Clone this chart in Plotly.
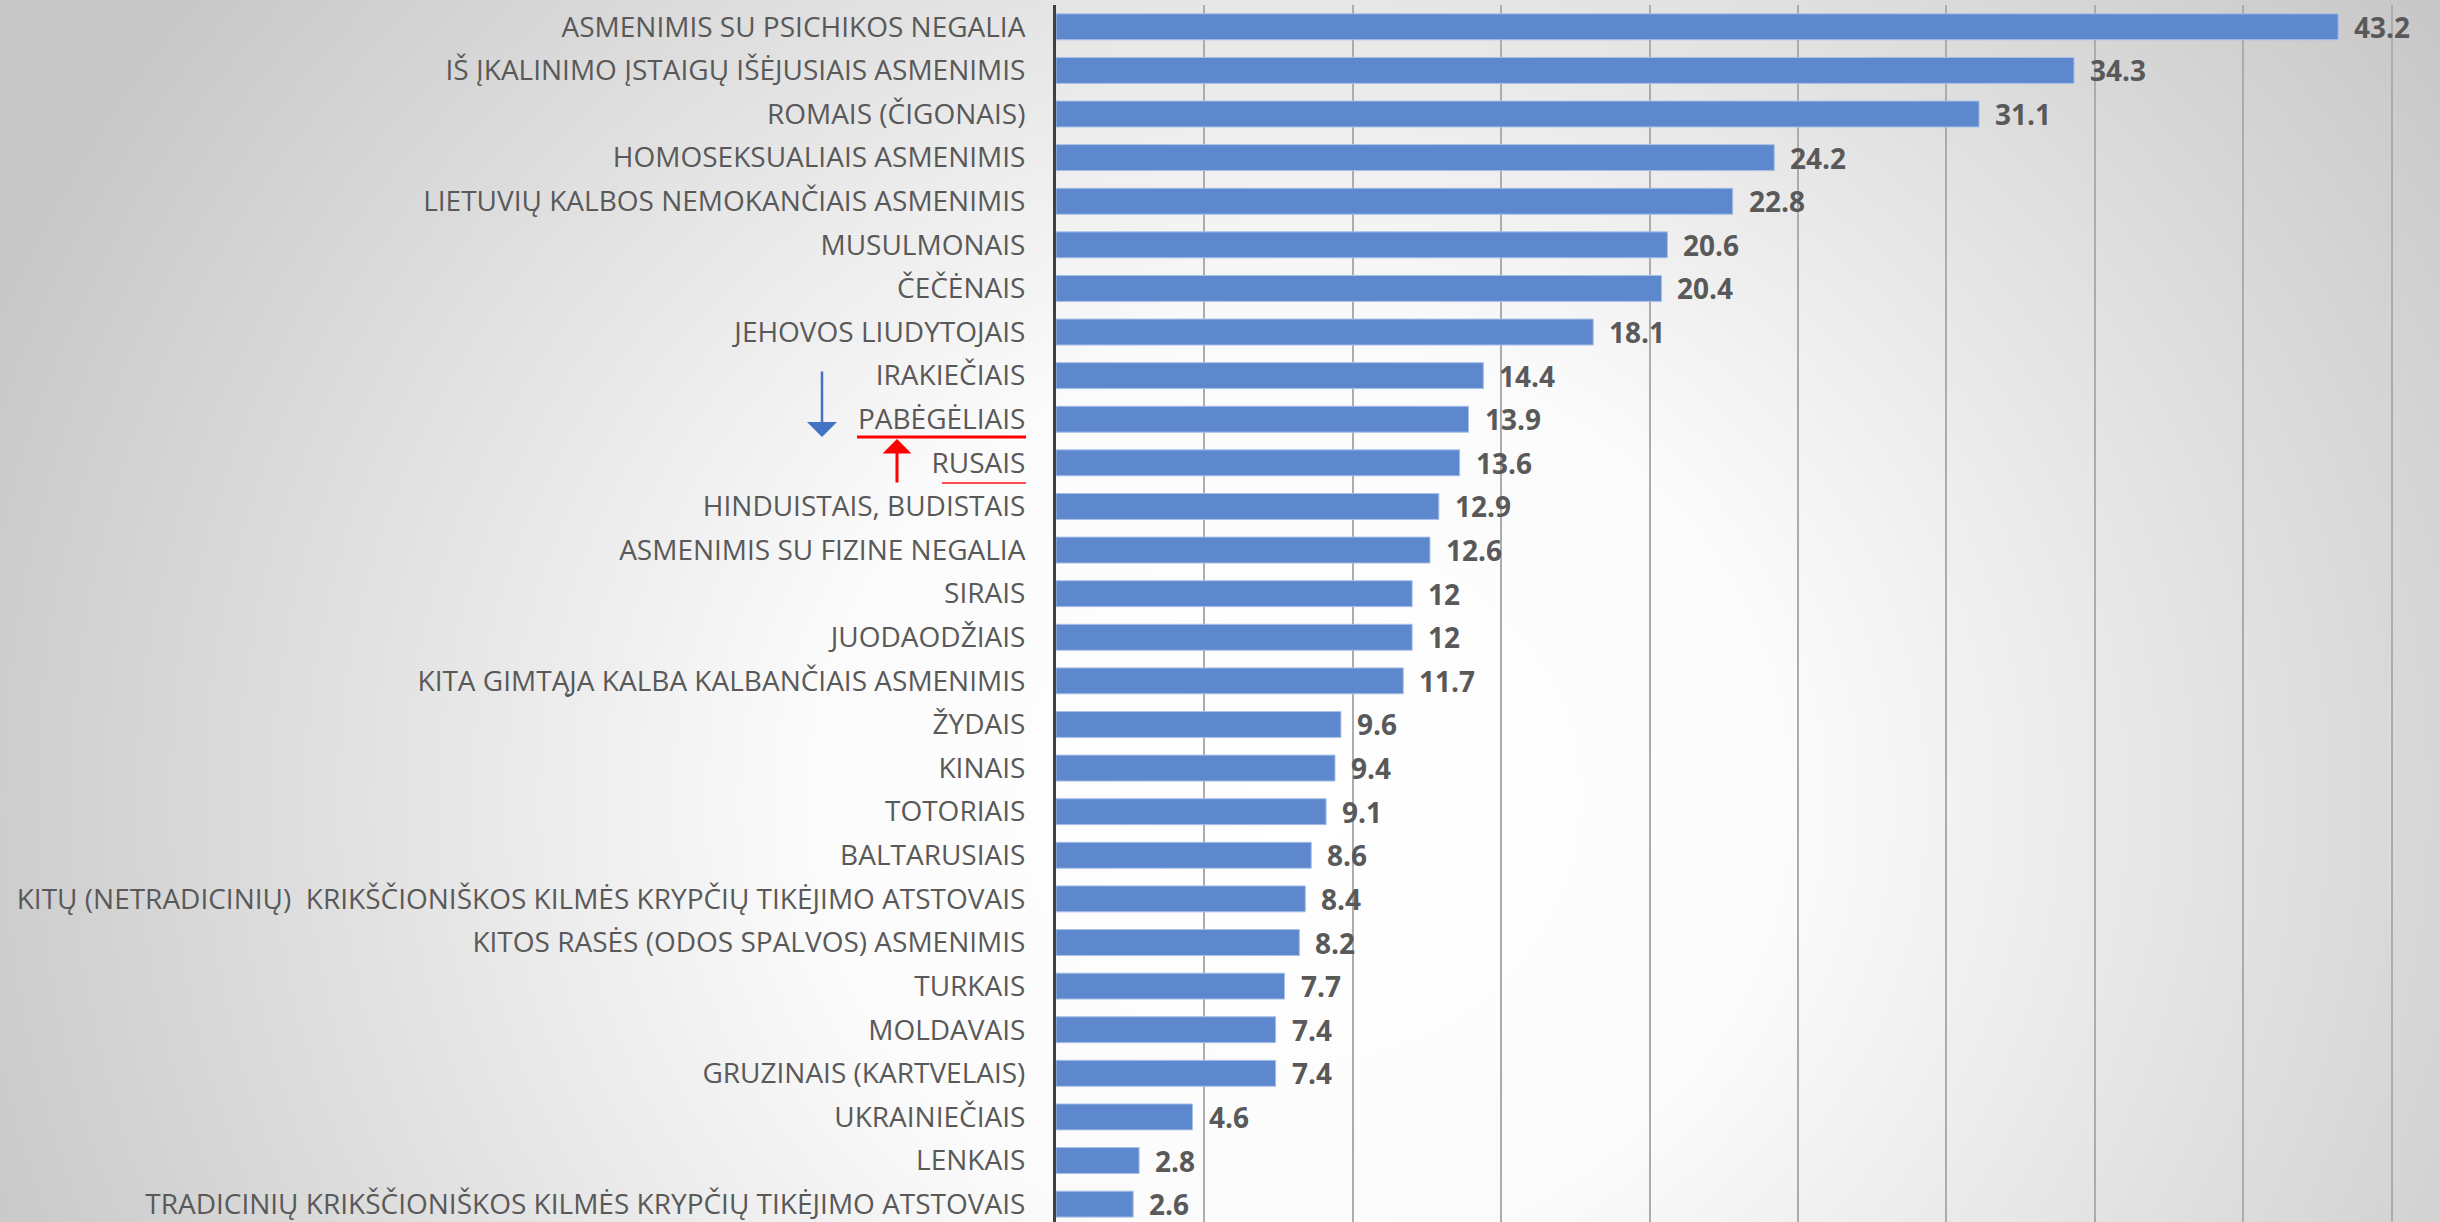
import base64

import plotly.graph_objects as go

# ── Data ──────────────────────────────────────────────────────────────────────
GROUPS = [
    "ASMENIMIS SU PSICHIKOS NEGALIA",
    "IŠ ĮKALINIMO ĮSTAIGŲ IŠĖJUSIAIS ASMENIMIS",
    "ROMAIS (ČIGONAIS)",
    "HOMOSEKSUALIAIS ASMENIMIS",
    "LIETUVIŲ KALBOS NEMOKANČIAIS ASMENIMIS",
    "MUSULMONAIS",
    "ČEČĖNAIS",
    "JEHOVOS LIUDYTOJAIS",
    "IRAKIEČIAIS",
    "PABĖGĖLIAIS",
    "RUSAIS",
    "HINDUISTAIS, BUDISTAIS",
    "ASMENIMIS SU FIZINE NEGALIA",
    "SIRAIS",
    "JUODAODŽIAIS",
    "KITA GIMTĄJA KALBA KALBANČIAIS ASMENIMIS",
    "ŽYDAIS",
    "KINAIS",
    "TOTORIAIS",
    "BALTARUSIAIS",
    "KITŲ (NETRADICINIŲ)  KRIKŠČIONIŠKOS KILMĖS KRYPČIŲ TIKĖJIMO ATSTOVAIS",
    "KITOS RASĖS (ODOS SPALVOS) ASMENIMIS",
    "TURKAIS",
    "MOLDAVAIS",
    "GRUZINAIS (KARTVELAIS)",
    "UKRAINIEČIAIS",
    "LENKAIS",
    "TRADICINIŲ KRIKŠČIONIŠKOS KILMĖS KRYPČIŲ TIKĖJIMO ATSTOVAIS",
]
VALUES = [43.2, 34.3, 31.1, 24.2, 22.8, 20.6, 20.4, 18.1, 14.4, 13.9, 13.6, 12.9,
          12.6, 12, 12, 11.7, 9.6, 9.4, 9.1, 8.6, 8.4, 8.2, 7.7, 7.4, 7.4, 4.6,
          2.8, 2.6]

# ── Layout constants (pixels) ────────────────────────────────────────────────
W, H = 2440, 1222
L, R, T, B = 1056, 0, 5, 0
PW, PH = W - L - R, H - T - B

BAR    = "#5E88CD"
TEXT   = "#595959"
FONT   = "Open Sans, Liberation Sans, sans-serif"


def px(x):
    return (x - L) / PW


def py(y):
    return 1 - (y - T) / PH


# soft grey radial background like the slide
svg = f"""<svg xmlns='http://www.w3.org/2000/svg' width='{W}' height='{H}'>
<defs><radialGradient id='g' gradientUnits='userSpaceOnUse' cx='1300' cy='800' r='1400'
 gradientTransform='translate(1300 800) scale(1 0.93) translate(-1300 -800)'>
<stop offset='0' stop-color='#ffffff'/><stop offset='0.35' stop-color='#fbfbfb'/>
<stop offset='1' stop-color='#c8c8c8'/></radialGradient></defs>
<rect width='{W}' height='{H}' fill='url(#g)'/></svg>"""
bg_uri = "data:image/svg+xml;base64," + base64.b64encode(svg.encode()).decode()

fig = go.Figure()
fig.add_trace(go.Bar(
    x=VALUES, y=GROUPS, orientation="h",
    marker=dict(color=BAR, line=dict(color="#A9C0E8", width=1)),
    hoverinfo="x+y",
))

# value labels
for g, v in zip(GROUPS, VALUES):
    fig.add_annotation(
        x=v, y=g, xref="x", yref="y", text=f"<b>{v:g}</b>",
        showarrow=False, xanchor="left", xshift=14,
        font=dict(family=FONT, size=28, color=TEXT),
    )

# blue down arrow
fig.add_annotation(
    x=px(822), y=py(437), xref="paper", yref="paper", ax=0, ay=-67,
    text="", showarrow=True, arrowhead=1, arrowwidth=2.5, arrowsize=2,
    arrowcolor="#4472C4",
)
# red up arrow
fig.add_annotation(
    x=px(897), y=py(439), xref="paper", yref="paper", ax=0, ay=45,
    text="", showarrow=True, arrowhead=1, arrowwidth=3, arrowsize=1.6,
    arrowcolor="#FF0000",
)
# red underlines
fig.add_shape(type="line", xref="paper", yref="paper",
              x0=px(857), x1=px(1026), y0=py(437), y1=py(437),
              line=dict(color="#FF0000", width=3))
fig.add_shape(type="line", xref="paper", yref="paper",
              x0=px(942), x1=px(1026), y0=py(483), y1=py(483),
              line=dict(color="#FF4B4B", width=2))

fig.add_layout_image(
    source=bg_uri, xref="paper", yref="paper",
    x=px(0), y=py(0), sizex=W / PW, sizey=H / PH,
    xanchor="left", yanchor="top", sizing="stretch", layer="below",
)

fig.update_layout(
    width=W, height=H,
    margin=dict(l=L, r=R, t=T, b=B, autoexpand=False),
    paper_bgcolor="white", plot_bgcolor="rgba(0,0,0,0)",
    bargap=0.405, showlegend=False,
    font=dict(family=FONT, color=TEXT),
)
fig.update_xaxes(
    range=[0, PW / 29.68], tick0=0, dtick=5, showticklabels=False,
    showgrid=True, gridcolor="#ACACAC", gridwidth=2, zeroline=False,
)
fig.update_yaxes(
    type="category", range=[27.41, -0.5], showline=True, linecolor="#404040",
    linewidth=3, ticks="", ticklabelstandoff=22,
    tickfont=dict(family=FONT, size=28, color=TEXT), showgrid=False,
)

# page margin would push the chart off by 8px
fig.write_html("out.html", config={"displayModeBar": False},
               post_script="document.body.style.margin='0px';")
